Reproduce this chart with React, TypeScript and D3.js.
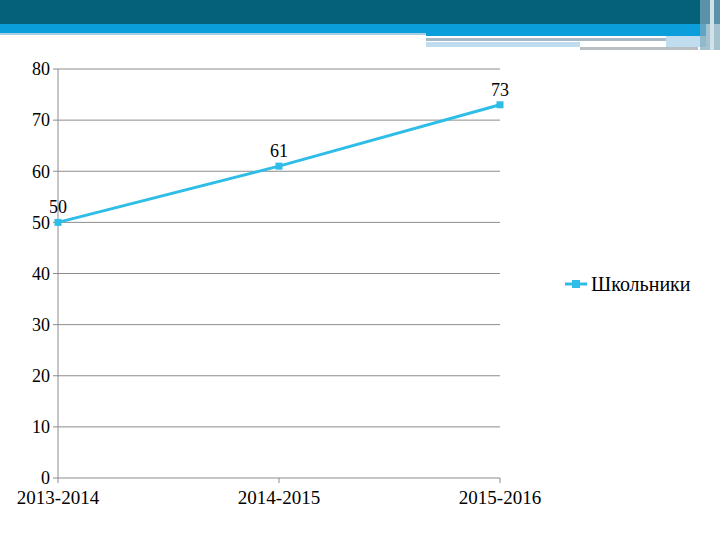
import React from "react";
import * as d3 from "d3";

const years = ["2013-2014", "2014-2015", "2015-2016"];
const pupils = [50, 61, 73];
const yTicks = [0, 10, 20, 30, 40, 50, 60, 70, 80];
const seriesName = "Школьники";

const W = 720;
const H = 540;
const lineColor = "#2DBDE6";
const font = "'Liberation Serif', 'Times New Roman', serif";

const App: React.FC = () => {
  const x = d3.scalePoint<string>().domain(years).range([58, 500]);
  const y = d3.scaleLinear().domain([0, 80]).range([478, 69]);

  const line = d3
    .line<number>()
    .x((_, i) => x(years[i]) as number)
    .y((d) => y(d));

  return (
    <svg
      width={W}
      height={H}
      style={{ position: "absolute", left: 0, top: 0, background: "#fff" }}
    >
      {/* шапка слайда */}
      <rect x={0} y={0} width={720} height={24} fill="#05607A" />
      <rect x={0} y={24} width={426} height={9} fill="#0A9FDB" />
      <rect x={0} y={33} width={426} height={2} fill="#A9CDE0" />
      <rect x={426} y={24} width={280} height={12} fill="#0A9FDB" />
      <rect x={426} y={38} width={240} height={3} fill="#A7B9C6" />
      <rect x={426} y={42} width={154} height={5} fill="#BFDDEE" />
      <rect x={580} y={47} width={118} height={3} fill="#B9BEC2" />
      <rect x={666} y={36} width={40} height={11} fill="#BFDDEE" />
      <rect x={700} y={0} width={20} height={50} fill="#7FA9BA" opacity={0.7} />
      <rect x={710} y={0} width={4} height={50} fill="#CFE2EA" />

      {/* сетка */}
      {yTicks.map((t) => (
        <g key={t}>
          <line x1={53} x2={500} y1={y(t)} y2={y(t)} stroke="#8C8C8C" strokeWidth={1} />
          <text
            x={50}
            y={y(t)}
            dy="0.35em"
            textAnchor="end"
            fontFamily={font}
            fontSize={18}
            fill="#000"
          >
            {t}
          </text>
        </g>
      ))}
      <line x1={58} x2={58} y1={y(80)} y2={y(0)} stroke="#8C8C8C" strokeWidth={1} />
      {years.map((c) => (
        <g key={c}>
          <line
            x1={x(c)}
            x2={x(c)}
            y1={y(0)}
            y2={y(0) + 5}
            stroke="#8C8C8C"
          />
          <text
            x={x(c)}
            y={y(0) + 26}
            textAnchor="middle"
            fontFamily={font}
            fontSize={19}
            fill="#000"
          >
            {c}
          </text>
        </g>
      ))}

      {/* линия */}
      <path d={line(pupils) || ""} fill="none" stroke={lineColor} strokeWidth={3} />
      {pupils.map((v, i) => (
        <g key={i}>
          <rect
            x={(x(years[i]) as number) - 3.5}
            y={y(v) - 3.5}
            width={7}
            height={7}
            fill={lineColor}
          />
          <text
            x={x(years[i]) as number}
            y={y(v) - 9}
            textAnchor="middle"
            fontFamily={font}
            fontSize={18}
            fill="#000"
          >
            {v}
          </text>
        </g>
      ))}

      {/* легенда */}
      <line x1={565} x2={587} y1={284} y2={284} stroke={lineColor} strokeWidth={3} />
      <rect x={572} y={280} width={8} height={8} fill={lineColor} />
      <text x={591} y={284} dy="0.35em" fontFamily={font} fontSize={20} fill="#000">
        {seriesName}
      </text>
    </svg>
  );
};

export default App;
